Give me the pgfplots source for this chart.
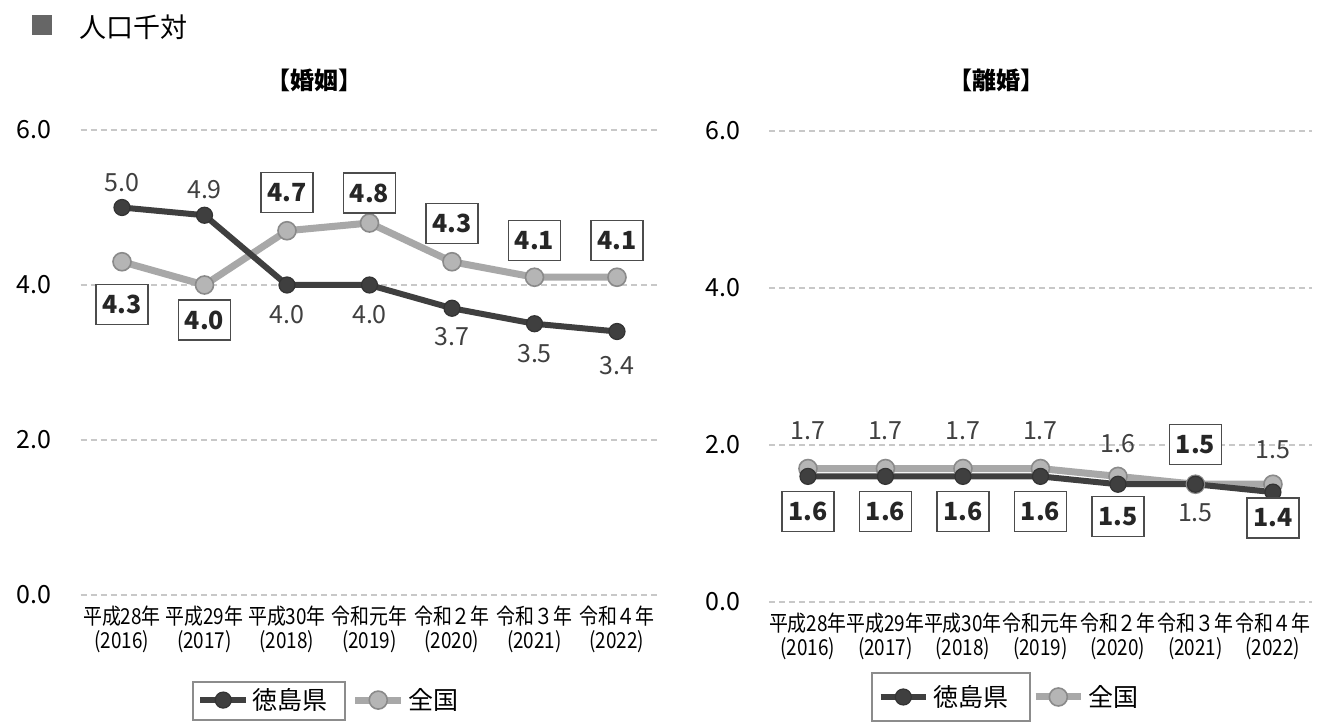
\documentclass[border=0pt]{standalone}
\usepackage{fontspec}
\setmainfont{Noto Sans CJK JP}
\newfontfamily\condfont{Noto Sans CJK JP}[FakeStretch=0.86]
\usepackage{pgfplots}
\usepackage{pgfplotstable}
\pgfplotsset{compat=1.18}

\definecolor{darkln}{HTML}{3F3F3F}
\definecolor{lightln}{HTML}{A8A8A8}
\definecolor{lightedge}{HTML}{8A8A8A}
\definecolor{gridc}{HTML}{C8C8C8}

% x  value  label offset (pt, + is above)
\pgfplotstableread{
x y off
0 5.0 12.5
1 4.9 13
2 4.0 -15
3 4.0 -15
4 3.7 -14
5 3.5 -15
6 3.4 -17
}\marTokushima
\pgfplotstableread{
x y off
0 4.3 -21.5
1 4.0 -17.5
2 4.7 19
3 4.8 15
4 4.3 19
5 4.1 18.5
6 4.1 18.5
}\marZenkoku
\pgfplotstableread{
x y off
0 1.6 -17.5
1 1.6 -17.5
2 1.6 -17.5
3 1.6 -17.5
4 1.5 -16
5 1.5 20
6 1.4 -13
}\divTokushima
\pgfplotstableread{
x y off
0 1.7 19
1 1.7 19
2 1.7 19
3 1.7 19
4 1.6 16.5
5 1.5 -14.5
6 1.5 17
}\divZenkoku

\pgfplotsset{
  panel/.style={
    scale only axis,
    xmin=-0.5, xmax=6.5, ymin=0, ymax=6,
    ytick={0,2,4,6},
    xtick={0,...,6},
    axis line style={draw=none},
    major tick length=0pt,
    ymajorgrids,
    grid style={densely dashed, gridc, line width=0.7pt},
    clip=false,
    yticklabel style={font=\fontsize{12.5}{15}\selectfont, xshift=-11pt,
      /pgf/number format/.cd, fixed, fixed zerofill, precision=1, assume math mode=true},
    xticklabel style={font=\condfont\fontsize{11}{12}\selectfont, align=center, yshift=-2pt},
    xticklabels={{平成28年\\(2016)},{平成29年\\(2017)},{平成30年\\(2018)},{令和元年\\(2019)},{令和２年\\(2020)},{令和３年\\(2021)},{令和４年\\(2022)}},
    title style={font=\fontsize{12}{14}\selectfont\bfseries, anchor=center},
    legend columns=2,
    reverse legend,
    legend style={draw=none, fill=none, anchor=center, font=\fontsize{12.5}{15}\selectfont,
      /tikz/every even column/.append style={column sep=10pt}},
    legend image code/.code={\draw[mark repeat=2,mark phase=2] plot coordinates {(0cm,0cm) (0.4cm,0cm) (0.8cm,0cm)};},
  },
  lightser/.style={draw=lightln, line width=3.5pt, mark=*, mark size=4.5pt,
    mark options={fill=lightln!85, draw=lightedge, line width=0.8pt}},
  darkser/.style={draw=darkln, line width=3pt, mark=*, mark size=4pt,
    mark options={fill=darkln, draw=black!80, line width=0.6pt}},
  plainlbl/.style={
    point meta=\thisrow{y},
    visualization depends on={\thisrow{off} \as \off},
    nodes near coords={\pgfmathprintnumber[fixed,fixed zerofill,precision=1,assume math mode=true]{\pgfplotspointmeta}},
    nodes near coords style={anchor=center, yshift=\off pt, text=black!75,
      font=\fontsize{12.5}{15}\selectfont}},
  boxlbl/.style={
    point meta=\thisrow{y},
    visualization depends on={\thisrow{off} \as \off},
    nodes near coords={\pgfmathprintnumber[fixed,fixed zerofill,precision=1,assume math mode=true]{\pgfplotspointmeta}},
    nodes near coords style={anchor=center, yshift=\off pt, text=black!85,
      draw=black!70, fill=white, line width=0.7pt, minimum width=26pt, minimum height=20pt,
      inner sep=2pt, font=\fontsize{12.5}{15}\selectfont\bfseries}},
}

\begin{document}
\begin{tikzpicture}
\useasboundingbox[fill=white] (0,0) rectangle (661.5pt,361pt);

% header
\fill[black!60] (16pt,343.5pt) rectangle (26pt,353.5pt);
\node[anchor=west, font=\fontsize{13.5}{16}\selectfont] at (36pt,347.5pt) {人口千対};

% marriage
\begin{axis}[panel,
  at={(40.375pt,63.5pt)}, anchor=south west,
  width=288.75pt, height=232.5pt,
  title={【婚姻】}, title style={at={(axis description cs:0.4056,1.0817)}},
  legend style={at={(axis description cs:0.4316,-0.226)}},
]
\addplot[lightser, boxlbl] table[x=x, y=y] {\marZenkoku};
\addlegendentry{全国}
\addplot[darkser, plainlbl] table[x=x, y=y] {\marTokushima};
\addlegendentry{徳島県}
\end{axis}

% divorce
\begin{axis}[panel,
  at={(384.6pt,60pt)}, anchor=south west,
  width=271.25pt, height=235.5pt,
  title={【離婚】}, title style={at={(axis description cs:0.4198,1.083)}},
  legend style={at={(axis description cs:0.444,-0.2017)}},
]
\addplot[lightser, plainlbl] table[x=x, y=y] {\divZenkoku};
\addlegendentry{全国}
\addplot[darkser, boxlbl] table[x=x, y=y] {\divTokushima};
\addlegendentry{徳島県}
\end{axis}

% frames round the first legend entries
\draw[black!45, line width=0.8pt] (96.5pt,1pt) rectangle (172.5pt,20pt);
\draw[black!45, line width=0.8pt] (436pt,0.5pt) rectangle (515pt,24.5pt);
\end{tikzpicture}
\end{document}
